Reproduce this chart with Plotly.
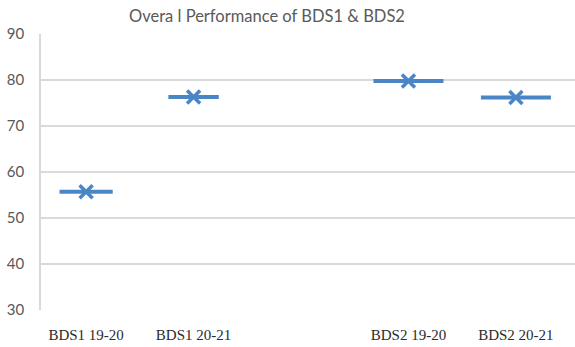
import plotly.graph_objects as go

# Categories (a blank slot separates the two groups) and scores
categories = ["BDS1 19-20", "BDS1 20-21", " ", "BDS2 19-20", "BDS2 20-21"]
scores = [55.7, 76.3, None, 79.8, 76.2]
y_ticks = [30, 40, 50, 60, 70, 80, 90]

BLUE = "#4A86C6"
GRID = "#D9D9D9"
dash_widths = [38, 36, 50, 50, 50]

fig = go.Figure()
# horizontal dash marker
fig.add_trace(go.Scatter(
    x=categories, y=scores, mode="markers",
    marker=dict(symbol="line-ew", size=dash_widths, color=BLUE, opacity=1,
                line=dict(color=BLUE, width=4)),
    hoverinfo="skip", showlegend=False,
))
# cross marker on top
fig.add_trace(go.Scatter(
    x=categories, y=scores, mode="markers",
    marker=dict(symbol="x-thin", size=13, color=BLUE, opacity=1,
                line=dict(color=BLUE, width=3.5)),
    showlegend=False,
))

fig.update_layout(
    width=575, height=347,
    margin=dict(l=41, r=0, t=34, b=37),
    paper_bgcolor="white", plot_bgcolor="white",
    title=dict(text="Overa l Performance of BDS1 & BDS2",
               x=267 / 575, xanchor="center", xref="container",
               y=1 - 16 / 347, yanchor="middle", yref="container",
               font=dict(family="Lato, Open Sans, sans-serif", size=16.5, color="#595959")),
    xaxis=dict(
        type="category", categoryorder="array", categoryarray=categories,
        range=[-0.42, 4.55], showgrid=False, zeroline=False,
        showline=False, ticks="",
        tickfont=dict(family="Liberation Serif, Times New Roman, serif", size=15, color="#2B2B2B"),
        ticklabelstandoff=14,
    ),
    yaxis=dict(
        range=[30, 90], tickvals=y_ticks, showgrid=True, gridcolor=GRID, gridwidth=1.5,
        zeroline=False, showline=True, linecolor=GRID, linewidth=1.5, ticks="",
        tickfont=dict(family="Lato, Open Sans, sans-serif", size=15, color="#595959"),
        ticklabelstandoff=12,
    ),
)

fig.write_html("out.html")
